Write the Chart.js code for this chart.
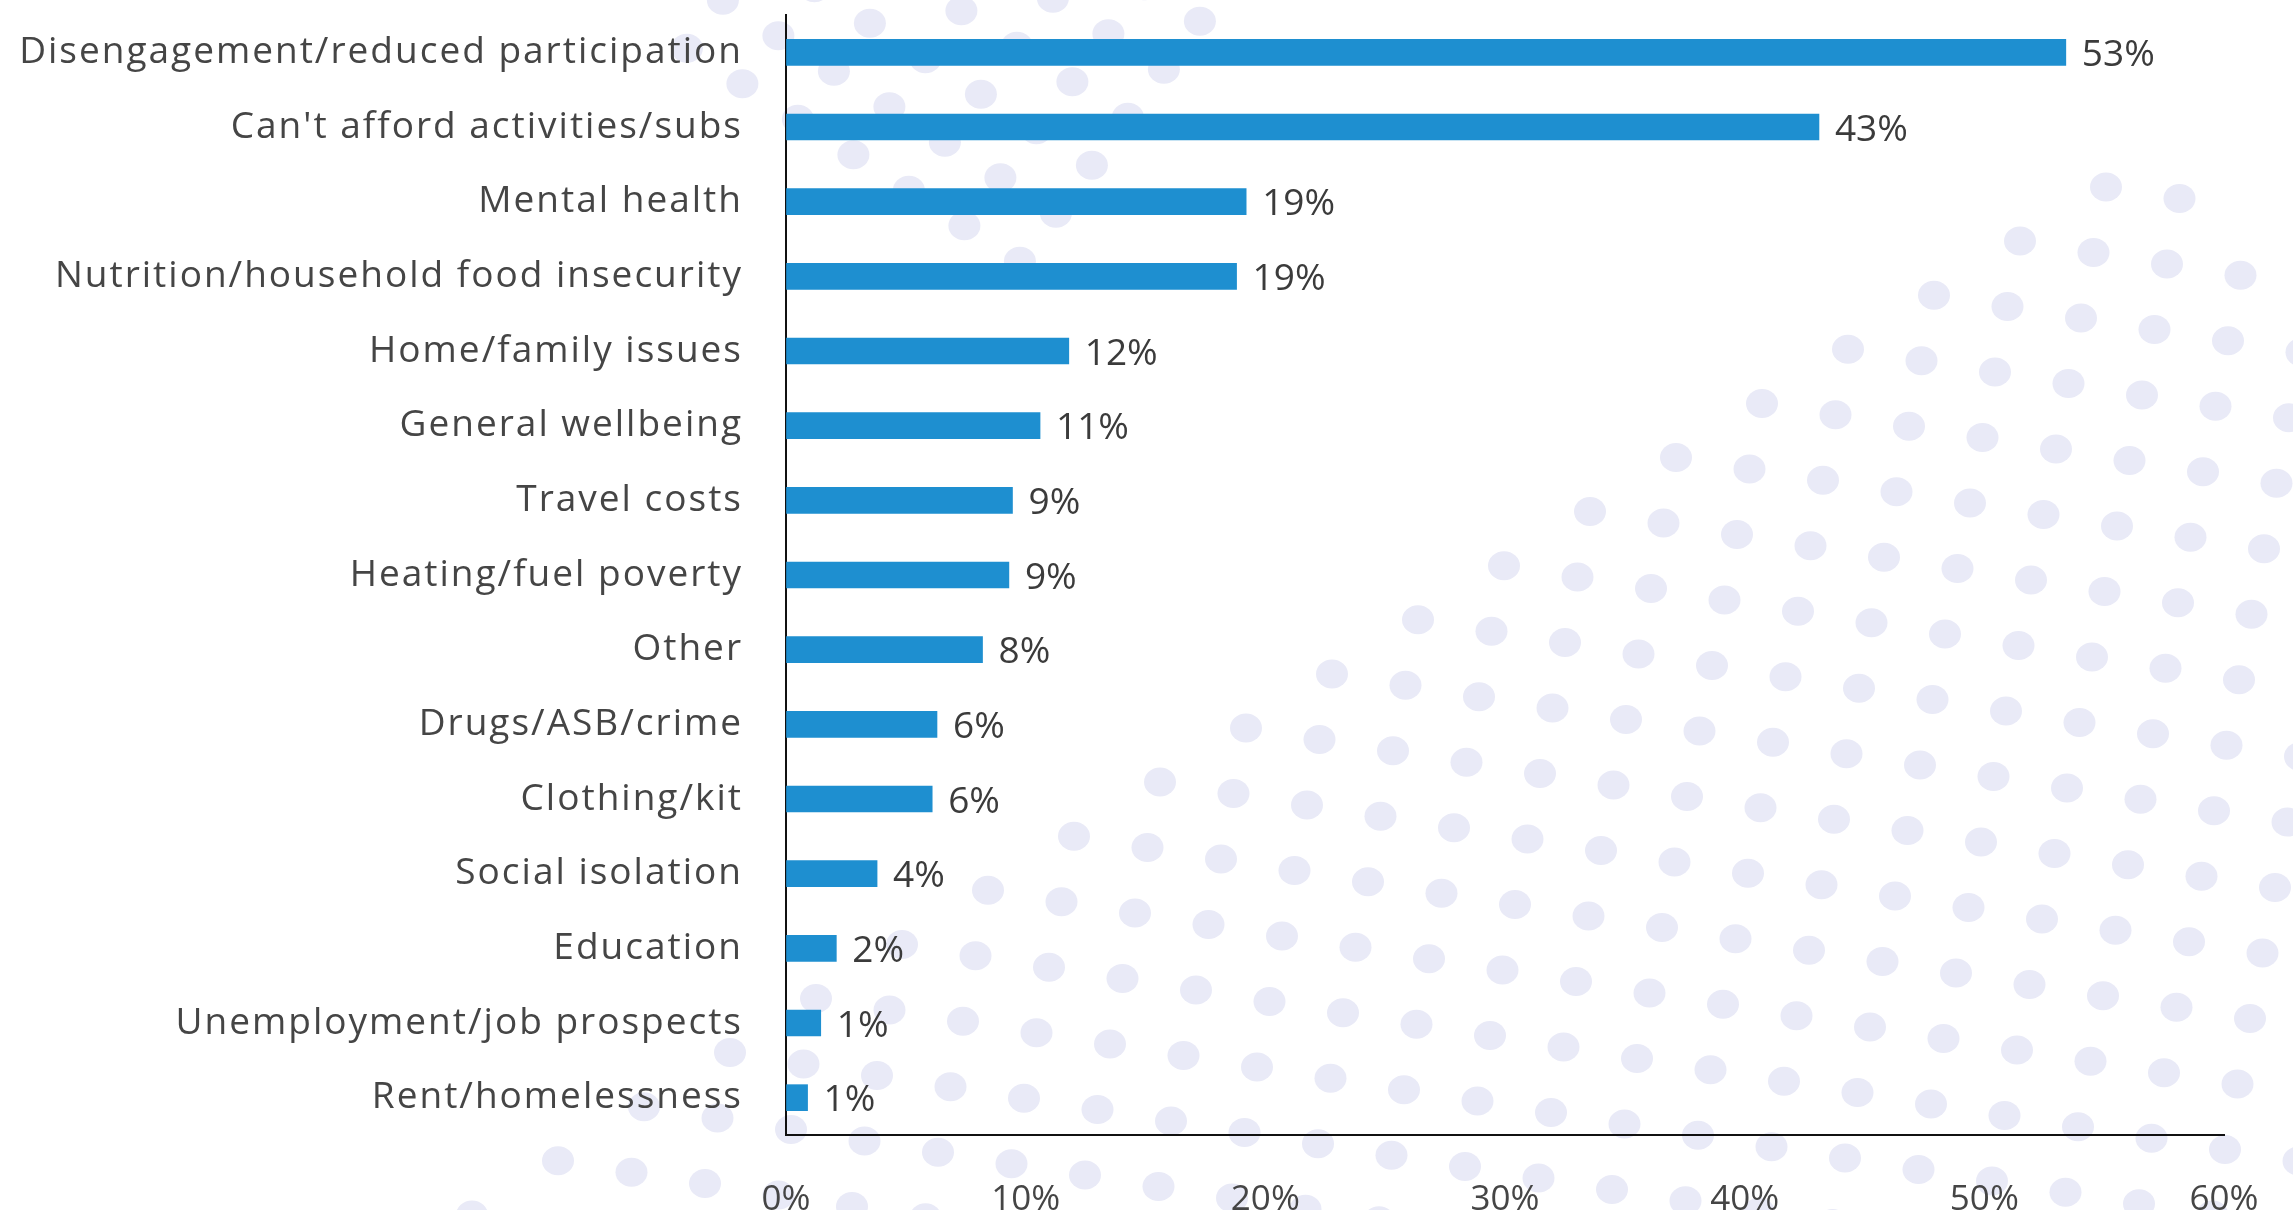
<!DOCTYPE html>
<html>
<head>
<meta charset="utf-8">
<script src="https://cdn.jsdelivr.net/npm/chart.js@4"></script>
<style>
  html, body { margin: 0; padding: 0; background: #ffffff; }
  #wrap { width: 2293px; height: 1210px; position: relative; }
</style>
</head>
<body>
<div id="wrap"><canvas id="chart" width="2293" height="1210"></canvas></div>
<script>
// Reported issues (share of respondents, %)
const categories = [
  'Disengagement/reduced participation',
  "Can't afford activities/subs",
  'Mental health',
  'Nutrition/household food insecurity',
  'Home/family issues',
  'General wellbeing',
  'Travel costs',
  'Heating/fuel poverty',
  'Other',
  'Drugs/ASB/crime',
  'Clothing/kit',
  'Social isolation',
  'Education',
  'Unemployment/job prospects',
  'Rent/homelessness'
];
const shares = [53.4, 43.1, 19.2, 18.8, 11.8, 10.6, 9.45, 9.3, 8.2, 6.3, 6.1, 3.8, 2.1, 1.45, 0.9];
const axisTicks = [0, 10, 20, 30, 40, 50, 60];

const FONT = "'Open Sans', 'DejaVu Sans', sans-serif";
const pct = v => Math.round(v) + '%';

// Decorative dotted backdrop drawn behind the plot
const dotBackdrop = {
  id: 'dotBackdrop',
  beforeDraw(chart) {
    const ctx = chart.ctx;
    ctx.save();
    ctx.fillStyle = '#ffffff';
    ctx.fillRect(0, 0, chart.width, chart.height);
    ctx.fillStyle = '#e9eaf7';
    const r = 16;
    const dot = (x, y) => {
      if (x < -r || y < -r || x > chart.width + r || y > chart.height + r) return;
      ctx.beginPath();
      ctx.ellipse(x, y, r, r - 1.5, 0, 0, Math.PI * 2);
      ctx.fill();
    };
    // large fan in the lower right
    const o = [2106, 187], a = [73.5, 11.4], c = [-12.5, 65.5];
    for (let i = -40; i <= 40; i++) {
      for (let j = -5; j <= 40; j++) {
        if (i + j < 0 || i - j > 1) continue;
        dot(o[0] + i * a[0] + j * c[0], o[1] + i * a[1] + j * c[1]);
      }
    }
    // small cluster near the top
    const o2 = [889.4, 106.7], p = [91.5, -12.5], q = [-36, 48];
    for (let m = -3; m <= 3; m++) {
      for (let n = -4; n <= 6; n++) {
        if (m - n < -1) continue;
        const y = o2[1] + m * p[1] + n * q[1];
        if (y > 290) continue;
        dot(o2[0] + m * p[0] + n * q[0], y);
      }
    }
    ctx.restore();
  }
};

// Percentage written at the end of each bar
const barValues = {
  id: 'barValues',
  afterDatasetsDraw(chart) {
    const ctx = chart.ctx;
    const meta = chart.getDatasetMeta(0);
    ctx.save();
    ctx.font = '37px ' + FONT;
    ctx.fillStyle = '#3b3b3b';
    ctx.textAlign = 'left';
    ctx.textBaseline = 'middle';
    meta.data.forEach((bar, i) => {
      ctx.fillText(pct(chart.data.datasets[0].data[i]), bar.x + 16, bar.y + 3);
    });
    ctx.restore();
  }
};

const noEdgePadding = scale => {
  scale.paddingTop = 0;
  scale.paddingBottom = 0;
  scale.paddingLeft = 0;
  scale.paddingRight = 0;
};

const chart = new Chart(document.getElementById('chart'), {
  type: 'bar',
  data: {
    labels: categories,
    datasets: [{
      data: shares,
      backgroundColor: '#1e8fd0',
      borderWidth: 0,
      barThickness: 26
    }]
  },
  options: {
    indexAxis: 'y',
    responsive: false,
    animation: false,
    events: [],
    layout: { padding: { top: 15, right: 69, left: 0, bottom: 0 } },
    plugins: {
      legend: { display: false },
      tooltip: { enabled: false }
    },
    scales: {
      x: {
        min: 0,
        max: 60,
        afterBuildTicks(scale) { scale.ticks = axisTicks.map(v => ({ value: v })); },
        afterFit(scale) { scale.height = 75; noEdgePadding(scale); },
        grid: { display: true, drawOnChartArea: false, drawTicks: false },
        border: { display: true, color: '#111111', width: 2 },
        ticks: {
          callback: v => v + '%',
          color: '#454545',
          font: { family: FONT, size: 35 },
          padding: 44,
          maxRotation: 0
        }
      },
      y: {
        afterFit(scale) { scale.width = 786; noEdgePadding(scale); },
        grid: { display: true, drawOnChartArea: false, drawTicks: false },
        border: { display: true, color: '#111111', width: 2 },
        ticks: {
          color: '#454545',
          font: { family: FONT, size: 37 },
          padding: 43,
          autoSkip: false
        }
      }
    }
  },
  plugins: [dotBackdrop, barValues]
});

// Category names are set a little wider, with extra letter spacing
const yAxis = chart.scales.y;
const drawCategoryNames = yAxis.drawLabels.bind(yAxis);
yAxis.drawLabels = function (area) {
  const ctx = this.ctx;
  ctx.save();
  ctx.letterSpacing = '2px';
  drawCategoryNames(area);
  ctx.restore();
};
chart.draw();
</script>
</body>
</html>
